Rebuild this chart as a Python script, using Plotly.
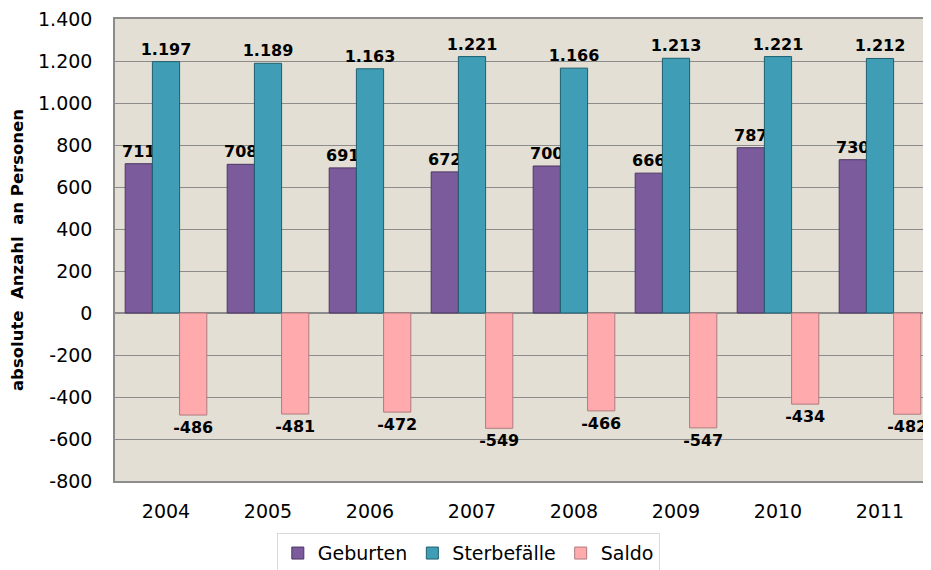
import plotly.graph_objects as go

years = ["2004", "2005", "2006", "2007", "2008", "2009", "2010", "2011"]
geburten = [711, 708, 691, 672, 700, 666, 787, 730]
sterbefaelle = [1197, 1189, 1163, 1221, 1166, 1213, 1221, 1212]
saldo = [-486, -481, -472, -549, -466, -547, -434, -482]
y_ticks = [-800, -600, -400, -200, 0, 200, 400, 600, 800, 1000, 1200, 1400]
y_tick_labels = ["-800", "-600", "-400", "-200", "0", "200", "400", "600",
                 "800", "1.000", "1.200", "1.400"]

series = [
    ("Geburten", geburten, "#7B5B9B", "#4A3561"),
    ("Sterbefälle", sterbefaelle, "#3F9DB6", "#1F5F70"),
    ("Saldo", saldo, "#FFABAE", "#B07A7E"),
]

fig = go.Figure()
for name, vals, col, edge in series:
    fig.add_trace(go.Bar(
        x=years, y=vals, name=name,
        marker=dict(color=col, line=dict(color=edge, width=1)),
        text=[f"{v:,}".replace(",", ".") for v in vals],
        textposition="outside", constraintext="none",
        textfont=dict(family="DejaVu Sans", size=16, color="black", weight="bold"),
        cliponaxis=False,
    ))

# page body has an 8px default margin, so the figure is offset by 8px
fig.update_layout(
    width=923, height=562,
    barmode="group", bargap=0.2, bargroupgap=0,
    paper_bgcolor="white", plot_bgcolor="#E3DFD4",
    margin=dict(l=107, r=0, t=11, b=89, autoexpand=False),
    font=dict(family="DejaVu Sans", size=19, color="black"),
    showlegend=True,
    legend=dict(orientation="h", x=0.433, xanchor="center", y=-0.113, yanchor="top",
                bgcolor="white", bordercolor="#D9D9D9", borderwidth=1,
                font=dict(size=19), itemwidth=30, traceorder="normal"),
    xaxis=dict(showgrid=False, showline=True, linecolor="#8C8C8C", linewidth=1.5, mirror=True,
               ticks="", tickfont=dict(size=19), automargin=False, ticklabelstandoff=12),
    yaxis=dict(range=[-800, 1400], tickvals=y_ticks, ticktext=y_tick_labels,
               showgrid=True, gridcolor="#8C8C8C", gridwidth=1,
               zeroline=True, zerolinecolor="#8C8C8C", zerolinewidth=1.5,
               showline=True, linecolor="#8C8C8C", linewidth=1.5, mirror=True,
               ticks="", tickfont=dict(size=19), automargin=False, ticklabelstandoff=17,
               ticklabeloverflow="allow",
               title=dict(text="absolute  Anzahl  an Personen",
                          font=dict(family="DejaVu Sans", size=16.5, weight="bold"),
                          standoff=12)),
)

fig.write_html("out.html")
